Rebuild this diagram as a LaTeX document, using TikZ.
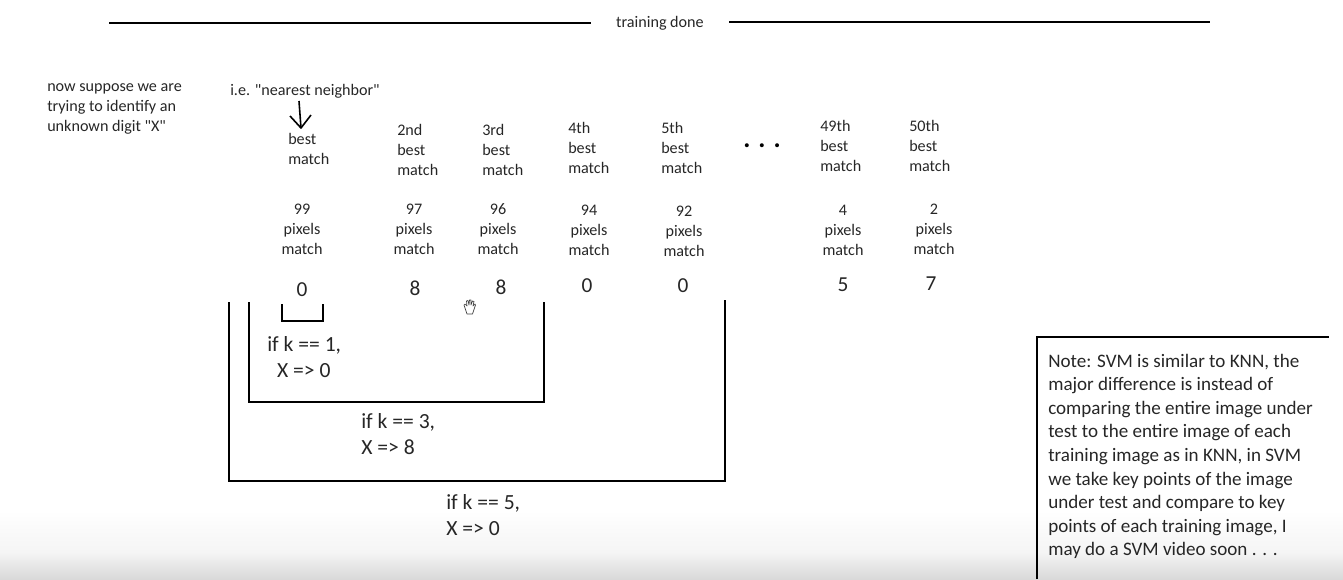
\documentclass[tikz,border=0pt]{standalone}
\usepackage{fontspec}
\setmainfont{Carlito}[Ligatures=TeXOff]
\tikzset{
 lbl/.style={inner sep=0pt,align=left,anchor=north west,font=\fontsize{12.1pt}{15pt}\selectfont,text=black!85},
 col/.style={inner sep=0pt,align=center,anchor=north,font=\fontsize{12.1pt}{15pt}\selectfont,text=black!85},
 big/.style={inner sep=0pt,align=left,anchor=north west,font=\fontsize{16.2pt}{19.6pt}\selectfont,text=black!85},
 dig/.style={inner sep=0pt,anchor=center,font=\fontsize{16pt}{16pt}\selectfont,text=black!85},
 ln/.style={line width=1.1pt,black}
}
\begin{document}
\begin{tikzpicture}[x=0.75pt,y=-0.75pt]
\useasboundingbox (0,0) rectangle (1343,579);
\shade[top color=white,bottom color=black!4] (0,510) rectangle (1343,552);
\shade[top color=black!4,bottom color=black!15] (0,552) rectangle (1343,579);
\coordinate (a1) at (109,23); \coordinate (a2) at (591,23);
\coordinate (b1) at (729,22); \coordinate (b2) at (1210,22);
\draw[ln] (a1)--(a2); \draw[ln] (b1)--(b2);
\node[inner sep=0pt,font=\fontsize{12.1pt}{15pt}\selectfont,text=black!85] (td) at (660,23.5) {training done};
\node[lbl] (now) at (47,83.5) {now suppose we are\\trying to identify an\\unknown digit "X"};
\node[lbl] (nn) at (230,84) {i.e. "nearest neighbor"};
\coordinate (arrS) at (299,101); \coordinate (arrT) at (301,128);
\draw[line width=1.2pt,black] (arrS)--(arrT);
\draw[line width=1.2pt,black,line join=round] (290,116)--(arrT)--(311,115);
\node[lbl] (m1) at (288,133) {best\\match};
\node[lbl] (m2) at (397,124) {2nd\\best\\match};
\node[lbl] (m3) at (482,124) {3rd\\best\\match};
\node[lbl] (m4) at (568,122) {4th\\best\\match};
\node[lbl] (m5) at (661,122) {5th\\best\\match};
\node[lbl] (m49) at (820,120) {49th\\best\\match};
\node[lbl] (m50) at (909,120) {50th\\best\\match};
\node[inner sep=0pt,font=\fontsize{20pt}{16pt}\selectfont\bfseries] (dots) at (762,146) {. . .};
\node[col] (p1) at (302,203.5) {99\\pixels\\match};
\node[col] (p2) at (414,203.5) {97\\pixels\\match};
\node[col] (p3) at (498,203.5) {96\\pixels\\match};
\node[col] (p4) at (589,204.5) {94\\pixels\\match};
\node[col] (p5) at (684,205.5) {92\\pixels\\match};
\node[col] (p49) at (843,205) {4\\pixels\\match};
\node[col] (p50) at (934,204) {2\\pixels\\match};
\node[dig] (d1) at (302,289.5) {0};
\node[dig] (d2) at (415,288) {8};
\node[dig] (d3) at (501,287) {8};
\node[dig] (d4) at (587,285.5) {0};
\node[dig] (d5) at (683,285.5) {0};
\node[dig] (d49) at (843,285) {5};
\node[dig] (d50) at (931,284) {7};
\draw[ln] (282,304)--(282,321)--(323,321)--(323,304);
\draw[ln] (249,302)--(249,402)--(544,402)--(544,302);
\draw[ln] (229,302)--(229,481)--(725,481)--(725,300);
\node[big] (k1) at (267,336) {if k == 1,\\\ \ X => 0};
\node[big] (k3) at (361,413) {if k == 3,\\X => 8};
\node[big] (k5) at (446,494) {if k == 5,\\X => 0};
% hand cursor
\draw[black!75,fill=white,line width=0.5pt,line join=round] (466,311)--(464,305)--(465,304)--(467,306)--(466.5,301)--(468,300.5)--(469,305)--(469.5,300)--(471,300)--(471,305)--(472.5,301)--(474,301.5)--(473,306)--(475,304)--(475.5,305)--(473.5,311)--(472.5,314)--(467,314)--cycle;
\draw[ln] (1037,579)--(1037,337)--(1329,337);
\node[inner sep=0pt,anchor=north west,align=left,font=\fontsize{14.3pt}{17.7pt}\selectfont,text=black!85] (note) at (1048,353.5) {Note: SVM is similar to KNN, the\\major difference is instead of\\comparing the entire image under\\test to the entire image of each\\training image as in KNN, in SVM\\we take key points of the image\\under test and compare to key\\points of each training image, I\\may do a SVM video soon . . .};
\end{tikzpicture}
\end{document}
